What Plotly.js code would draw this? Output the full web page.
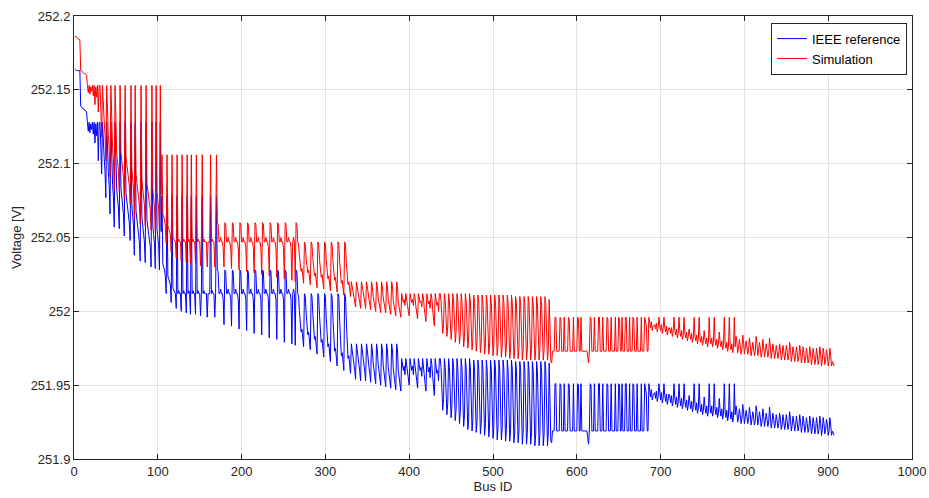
<!DOCTYPE html>
<html>
<head>
<meta charset="utf-8">
<script src="https://cdn.plot.ly/plotly-3.0.1.min.js"></script>
<style>html,body{margin:0;padding:0;background:#fff;}#chart{width:929px;height:498px;}</style>
</head>
<body>
<div id="chart"></div>
<script>
// Voltage per bus (bus IDs 1..906)
const ieeeVoltage = [
// bus 1-15
252.164,252.163,252.163,252.163,252.163,252.163,252.163,
252.139,252.138,252.138,252.137,252.137,252.136,252.136,252.135,
// bus 16-30
252.128,252.122,252.128,252.121,252.127,252.123,252.128,252.120,252.128,252.114,252.127,252.119,252.128,252.102,252.128,
// bus 31-104
252.128,252.112,252.093,252.128,252.110,252.104,252.095,252.077,252.128,252.100,
252.094,252.085,252.066,252.128,252.092,252.086,252.078,252.057,252.128,252.088,
252.082,252.076,252.070,252.056,252.128,252.083,252.077,252.071,252.066,252.051,
252.128,252.080,252.074,252.069,252.064,252.060,252.048,252.128,252.072,252.066,
252.058,252.038,252.128,252.068,252.062,252.057,252.052,252.047,252.034,252.128,
252.064,252.058,252.053,252.047,252.033,252.128,252.062,252.056,252.052,252.048,
252.044,252.030,252.128,252.058,252.052,252.046,252.029,252.128,252.056,252.050,
252.045,252.028,252.128,252.054,
// bus 105-169
252.078,252.032,252.030,252.028,252.024,252.012,
252.078,252.024,252.022,252.020,252.018,252.006,
252.078,252.016,252.014,252.013,252.012,252.002,
252.078,252.012,252.014,252.012,252.012,252.000,
252.078,252.012,252.014,252.012,252.012,251.999,
252.078,252.012,252.014,252.012,251.998,
252.078,252.012,252.014,252.012,252.012,251.998,
252.078,252.012,252.014,252.012,252.012,251.997,
252.012,252.078,252.012,252.014,252.012,252.012,252.012,251.996,252.012,
252.012,252.012,252.078,252.012,252.014,252.012,252.012,251.996,252.012,252.078,
// bus 170-265
252.028,252.027,252.012,252.012,252.015,252.012,252.012,252.008,251.991,
252.028,252.027,252.012,252.012,252.015,252.012,252.012,252.008,251.990,
252.028,252.027,252.012,252.012,252.015,252.012,252.012,252.008,251.988,
252.028,252.027,252.012,252.012,252.015,252.012,252.012,252.008,251.987,
252.028,252.027,252.012,252.012,252.015,252.012,252.012,252.008,251.985,
252.028,252.027,252.012,252.012,252.015,252.012,252.012,252.008,251.984,
252.028,252.027,252.012,252.012,252.015,252.012,252.012,252.008,251.982,
252.028,252.027,252.012,252.012,252.015,252.012,252.012,252.008,251.981,
252.028,252.027,252.012,252.012,252.015,252.012,252.012,252.008,251.979,
252.028,252.027,252.012,252.012,252.015,252.012,252.012,252.008,251.978,
252.012,252.015,252.012,251.977,252.028,252.027,
// bus 266-329
252.012,252.010,252.000,251.990,251.986,251.988,251.982,251.976,
252.012,252.010,251.999,251.988,251.984,251.986,251.980,251.974,
252.012,252.010,251.998,251.985,251.981,251.983,251.977,251.971,
252.012,252.010,251.997,251.983,251.979,251.981,251.975,251.969,
252.012,252.010,251.996,251.980,251.976,251.978,251.972,251.966,
252.012,252.010,251.995,251.977,251.973,251.975,251.969,251.963,
252.012,252.010,251.994,251.974,251.970,251.972,251.966,251.960,
252.012,252.010,251.993,251.972,251.968,251.970,251.964,251.958,
// bus 330-389
251.978,251.974,251.968,251.964,251.960,251.954,
251.978,251.974,251.967,251.963,251.959,251.953,
251.978,251.974,251.967,251.963,251.959,251.953,
251.978,251.974,251.966,251.962,251.958,251.952,
251.978,251.974,251.965,251.961,251.957,251.951,
251.978,251.974,251.964,251.960,251.956,251.950,
251.978,251.974,251.963,251.959,251.955,251.949,
251.978,251.974,251.962,251.958,251.954,251.948,
251.978,251.974,251.961,251.957,251.953,251.947,
251.978,251.974,251.960,251.956,251.952,251.946,
// bus 390-435
251.968,251.964,251.960,251.963,251.957,
251.968,251.964,251.959,251.955,251.950,
251.968,251.964,251.960,251.963,251.957,
251.968,251.964,251.958,251.953,251.948,
251.968,251.964,251.960,251.962,251.956,
251.968,251.964,251.957,251.951,251.946,
251.968,251.964,251.959,251.962,251.955,
251.968,251.964,251.956,251.949,251.943,
251.968,251.964,251.958,251.960,251.953,
251.968,
// bus 436-565
251.968,251.962,251.950,251.933,251.941,
251.968,251.962,251.949,251.930,251.938,
251.968,251.962,251.948,251.928,251.936,
251.968,251.962,251.947,251.926,251.934,
251.968,251.962,251.946,251.924,251.932,
251.968,251.962,251.945,251.922,251.930,
251.968,251.962,251.944,251.920,251.928,
251.968,251.962,251.943,251.919,251.927,
251.967,251.961,251.943,251.918,251.926,
251.967,251.961,251.942,251.917,251.925,
251.967,251.961,251.942,251.916,251.924,
251.967,251.961,251.941,251.915,251.923,
251.967,251.961,251.941,251.914,251.922,
251.967,251.961,251.940,251.913,251.921,
251.967,251.961,251.940,251.913,251.921,
251.967,251.961,251.940,251.912,251.920,
251.967,251.961,251.939,251.912,251.920,
251.967,251.961,251.939,251.911,251.919,
251.966,251.960,251.939,251.911,251.919,
251.966,251.960,251.938,251.910,251.918,
251.966,251.960,251.938,251.910,251.918,
251.966,251.960,251.938,251.910,251.918,
251.966,251.960,251.938,251.909,251.917,
251.966,251.960,251.937,251.909,251.917,
251.966,251.960,251.937,251.909,251.917,
251.966,251.960,251.937,251.909,251.917,
// bus 566-684
251.965,251.940,251.912,251.911,
251.919,251.919,251.919,251.951,251.951,251.919,251.919,251.919,251.919,
251.951,251.950,251.919,251.919,251.919,251.951,251.919,251.919,251.919,251.919,
251.951,251.950,251.919,251.919,251.919,251.919,251.951,251.919,251.919,251.919,251.919,
251.951,251.950,251.919,251.919,251.951,251.919,251.919,251.919,251.919,251.919,251.919,251.919,251.915,251.910,251.919,
251.951,251.950,251.919,251.919,251.919,251.951,251.919,251.919,251.919,251.919,251.951,251.951,251.919,
251.919,251.919,251.951,251.919,251.919,251.919,251.919,251.951,251.950,251.919,251.919,251.919,251.951,251.919,
251.919,251.919,251.919,251.951,251.919,251.919,251.919,251.951,251.950,251.919,251.919,251.951,251.919,251.919,
251.919,251.951,251.951,251.919,251.919,251.919,251.951,251.919,251.919,251.919,251.951,251.950,251.919,251.919,
251.919,251.951,251.919,251.919,251.919,251.919,251.951,251.919,251.919,251.919,251.951,251.946,251.944,251.919,251.919,
// bus 685-788
251.951,251.946,251.942,251.947,251.940,251.943,
251.944,251.945,251.941,251.946,251.939,251.942,
251.951,251.944,251.940,251.945,251.938,251.941,
251.951,251.943,251.939,251.944,251.937,251.940,
251.944,251.942,251.938,251.943,251.936,251.939,
251.951,251.941,251.937,251.942,251.935,251.938,
251.951,251.940,251.936,251.941,251.934,251.937,
251.951,251.939,251.935,251.940,251.933,251.936,
251.943,251.938,251.934,251.939,251.932,251.935,
251.951,251.937,251.933,251.938,251.931,251.934,
251.951,251.936,251.932,251.937,251.930,251.933,
251.942,251.935,251.931,251.936,251.929,251.932,
251.951,251.935,251.931,251.936,251.929,251.932,
251.951,251.934,251.930,251.935,251.928,251.931,
251.941,251.933,251.929,251.934,251.927,251.930,
251.951,251.932,251.928,251.933,251.926,251.929,
251.951,251.931,251.927,251.932,251.925,251.928,
251.951,251.930,
// bus 789-906
251.936,251.932,251.925,251.928, 251.934,251.930,251.924,251.927,
251.937,251.932,251.924,251.928, 251.933,251.929,251.924,251.927,
251.935,251.930,251.923,251.927, 251.932,251.928,251.923,251.926,
251.936,251.931,251.923,251.927, 251.932,251.928,251.922,251.925,
251.934,251.929,251.922,251.926, 251.931,251.927,251.922,251.925,
251.935,251.929,251.921,251.925, 251.931,251.927,251.921,251.924,
251.930,251.926,251.921,251.924, 251.931,251.927,251.920,251.923,
251.930,251.926,251.920,251.923, 251.930,251.926,251.920,251.923,
251.932,251.927,251.919,251.923, 251.929,251.925,251.919,251.922,
251.929,251.925,251.919,251.922, 251.930,251.925,251.918,251.922,
251.929,251.925,251.918,251.921, 251.928,251.924,251.918,251.921,
251.929,251.924,251.917,251.921, 251.928,251.924,251.917,251.920,
251.928,251.924,251.917,251.920, 251.929,251.924,251.916,251.920,
251.928,251.924,251.917,251.920, 251.927,251.923,251.916,251.919,
251.928,251.923,251.916,251.919,
251.917,251.916
];

const simVoltage = [
// bus 1-15
252.186,252.186,252.186,252.185,252.184,252.184,252.184,
252.163,252.163,252.162,252.162,252.161,252.161,252.160,252.160,
// bus 16-30
252.153,252.148,252.153,252.147,252.152,252.149,252.153,252.146,252.153,252.140,252.152,252.145,252.153,252.135,252.153,
// bus 31-104
252.153,252.137,252.118,252.153,252.135,252.129,252.120,252.102,252.153,252.125,
252.119,252.110,252.091,252.153,252.117,252.111,252.103,252.082,252.153,252.113,
252.107,252.101,252.095,252.081,252.153,252.108,252.102,252.096,252.091,252.076,
252.153,252.105,252.099,252.094,252.089,252.085,252.073,252.153,252.097,252.091,
252.083,252.063,252.153,252.093,252.087,252.082,252.077,252.072,252.059,252.153,
252.089,252.083,252.078,252.072,252.058,252.153,252.087,252.081,252.077,252.073,
252.069,252.055,252.153,252.083,252.077,252.071,252.054,252.153,252.081,252.075,
252.070,252.053,252.153,252.079,
// bus 105-169
252.106,252.066,252.064,252.062,252.058,252.046,
252.106,252.058,252.056,252.054,252.052,252.040,
252.106,252.050,252.049,252.048,252.047,252.036,
252.106,252.047,252.049,252.047,252.047,252.034,
252.106,252.047,252.049,252.047,252.047,252.033,
252.106,252.047,252.049,252.047,252.032,
252.106,252.047,252.049,252.047,252.047,252.032,
252.106,252.047,252.049,252.047,252.047,252.031,
252.047,252.106,252.047,252.049,252.047,252.047,252.047,252.030,252.047,
252.047,252.047,252.106,252.047,252.049,252.047,252.047,252.030,252.047,252.106,
// bus 170-265
252.060,252.059,252.047,252.047,252.050,252.047,252.047,252.043,252.030,
252.060,252.059,252.047,252.047,252.050,252.047,252.047,252.043,252.029,
252.060,252.059,252.047,252.047,252.050,252.047,252.047,252.043,252.028,
252.060,252.059,252.047,252.047,252.050,252.047,252.047,252.043,252.027,
252.060,252.059,252.047,252.047,252.050,252.047,252.047,252.043,252.026,
252.060,252.059,252.047,252.047,252.050,252.047,252.047,252.043,252.025,
252.060,252.059,252.047,252.047,252.050,252.047,252.047,252.043,252.024,
252.060,252.059,252.047,252.047,252.050,252.047,252.047,252.043,252.023,
252.060,252.059,252.047,252.047,252.050,252.047,252.047,252.043,252.022,
252.060,252.059,252.047,252.047,252.050,252.047,252.047,252.043,252.021,
252.047,252.050,252.047,252.020,252.060,252.059,
// bus 266-329
252.047,252.045,252.037,252.030,252.027,252.029,252.024,252.019,
252.047,252.045,252.036,252.029,252.026,252.028,252.023,252.018,
252.047,252.045,252.036,252.027,252.024,252.026,252.021,252.016,
252.047,252.045,252.035,252.026,252.023,252.025,252.020,252.015,
252.047,252.045,252.035,252.025,252.022,252.024,252.019,252.014,
252.047,252.045,252.034,252.024,252.021,252.023,252.018,252.013,
252.047,252.045,252.034,252.022,252.019,252.021,252.016,252.011,
252.047,252.045,252.033,252.021,252.018,252.020,252.015,252.010,
// bus 330-389
252.020,252.017,252.013,252.010,252.007,252.003,
252.020,252.017,252.012,252.009,252.006,252.002,
252.020,252.017,252.012,252.009,252.006,252.002,
252.020,252.017,252.011,252.008,252.005,252.001,
252.020,252.017,252.010,252.007,252.004,252.000,
252.020,252.017,252.009,252.006,252.003,251.999,
252.020,252.017,252.009,252.006,252.003,251.999,
252.020,252.017,252.008,252.005,252.002,251.998,
252.020,252.017,252.007,252.004,252.001,251.997,
252.020,252.017,252.006,252.003,252.000,251.996,
// bus 390-435
252.012,252.009,252.006,252.008,252.004,
252.012,252.009,252.004,252.000,251.997,
252.012,252.009,252.006,252.008,252.004,
252.012,252.009,252.003,251.999,251.995,
252.012,252.009,252.006,252.007,252.003,
252.012,252.009,252.002,251.997,251.993,
252.012,252.009,252.005,252.007,252.002,
252.012,252.009,252.001,251.995,251.990,
252.012,252.009,252.004,252.006,252.000,
252.012,
// bus 436-565
252.012,252.007,251.998,251.985,251.992,
252.012,252.007,251.997,251.983,251.990,
252.012,252.007,251.996,251.981,251.988,
252.012,252.007,251.995,251.979,251.986,
252.012,252.007,251.995,251.978,251.985,
252.012,252.007,251.994,251.976,251.983,
252.012,252.007,251.993,251.975,251.982,
252.012,252.007,251.993,251.974,251.981,
252.011,252.006,251.992,251.973,251.980,
252.011,252.006,251.991,251.972,251.979,
252.011,252.006,251.991,251.971,251.978,
252.011,252.006,251.991,251.971,251.978,
252.011,252.006,251.990,251.970,251.977,
252.011,252.006,251.990,251.970,251.977,
252.011,252.006,251.990,251.969,251.976,
252.011,252.006,251.990,251.969,251.976,
252.011,252.006,251.989,251.968,251.975,
252.011,252.006,251.989,251.968,251.975,
252.010,252.005,251.989,251.968,251.975,
252.010,252.005,251.988,251.967,251.974,
252.010,252.005,251.988,251.967,251.974,
252.010,252.005,251.988,251.967,251.974,
252.010,252.005,251.988,251.967,251.974,
252.010,252.005,251.988,251.967,251.974,
252.010,252.005,251.988,251.967,251.974,
252.010,252.005,251.988,251.967,251.974,
// bus 566-684
252.008,251.990,251.966,251.965,
251.973,251.973,251.973,251.996,251.996,251.973,251.973,251.973,251.973,
251.996,251.995,251.973,251.973,251.973,251.996,251.973,251.973,251.973,251.973,
251.996,251.995,251.973,251.973,251.973,251.973,251.996,251.973,251.973,251.973,251.973,
251.996,251.995,251.973,251.973,251.996,251.973,251.973,251.973,251.973,251.973,251.973,251.973,251.970,251.965,251.973,
251.996,251.995,251.973,251.973,251.973,251.996,251.973,251.973,251.973,251.973,251.996,251.996,251.973,
251.973,251.973,251.996,251.973,251.973,251.973,251.973,251.996,251.995,251.973,251.973,251.973,251.996,251.973,
251.973,251.973,251.973,251.996,251.973,251.973,251.973,251.996,251.995,251.973,251.973,251.996,251.973,251.973,
251.973,251.996,251.996,251.973,251.973,251.973,251.996,251.973,251.973,251.973,251.996,251.995,251.973,251.973,
251.973,251.996,251.973,251.973,251.973,251.973,251.996,251.973,251.973,251.973,251.996,251.992,251.990,251.973,251.973,
// bus 685-788
251.996,251.992,251.989,251.993,251.987,251.990,
251.990,251.991,251.988,251.992,251.986,251.989,
251.996,251.990,251.987,251.991,251.985,251.988,
251.996,251.989,251.986,251.990,251.984,251.987,
251.989,251.988,251.985,251.989,251.983,251.986,
251.996,251.987,251.984,251.988,251.982,251.985,
251.996,251.986,251.983,251.987,251.981,251.984,
251.996,251.985,251.982,251.986,251.980,251.983,
251.988,251.984,251.981,251.985,251.979,251.982,
251.996,251.983,251.980,251.984,251.978,251.981,
251.996,251.982,251.979,251.983,251.977,251.980,
251.987,251.981,251.978,251.982,251.976,251.979,
251.996,251.981,251.978,251.982,251.976,251.979,
251.996,251.980,251.977,251.981,251.975,251.978,
251.986,251.979,251.976,251.980,251.974,251.977,
251.996,251.978,251.975,251.979,251.973,251.976,
251.996,251.977,251.974,251.978,251.972,251.975,
251.996,251.976,
// bus 789-906
251.983,251.979,251.972,251.975, 251.981,251.977,251.971,251.974,
251.984,251.979,251.971,251.975, 251.980,251.976,251.971,251.974,
251.982,251.977,251.970,251.974, 251.979,251.975,251.970,251.973,
251.983,251.978,251.970,251.974, 251.979,251.975,251.969,251.972,
251.981,251.976,251.969,251.973, 251.978,251.974,251.969,251.972,
251.982,251.976,251.968,251.972, 251.978,251.974,251.968,251.971,
251.977,251.973,251.968,251.971, 251.978,251.974,251.967,251.970,
251.977,251.973,251.967,251.970, 251.977,251.973,251.967,251.970,
251.979,251.974,251.966,251.970, 251.976,251.972,251.966,251.969,
251.976,251.972,251.966,251.969, 251.977,251.972,251.965,251.969,
251.976,251.972,251.965,251.968, 251.975,251.971,251.965,251.968,
251.976,251.971,251.964,251.968, 251.975,251.971,251.964,251.967,
251.975,251.971,251.964,251.967, 251.976,251.971,251.963,251.967,
251.975,251.971,251.964,251.967, 251.974,251.970,251.963,251.966,
251.975,251.970,251.963,251.966,
251.964,251.963
];

const seriesNames = ['IEEE reference', 'Simulation'];
const seriesColors = ['#0000ff', '#ff0000'];
const xTickVals = [0, 100, 200, 300, 400, 500, 600, 700, 800, 900, 1000];
const yTickVals = [251.9, 251.95, 252, 252.05, 252.1, 252.15, 252.2];
const yTickText = ['251.9', '251.95', '252', '252.05', '252.1', '252.15', '252.2'];

const busIdIeee = ieeeVoltage.map((_, i) => i + 1);
const busIdSim = simVoltage.map((_, i) => i + 1);

const traces = [
  {x: busIdIeee, y: ieeeVoltage, type: 'scatter', mode: 'lines', name: seriesNames[0],
   line: {color: seriesColors[0], width: 1}},
  {x: busIdSim, y: simVoltage, type: 'scatter', mode: 'lines', name: seriesNames[1],
   line: {color: seriesColors[1], width: 1}}
];

const axisCommon = {
  showgrid: true, gridcolor: '#e2e2e2', gridwidth: 1,
  zeroline: false, showline: true, linecolor: '#262626', linewidth: 1,
  mirror: 'ticks', ticks: 'inside', ticklen: 5, tickcolor: '#262626', tickwidth: 1,
  tickfont: {family: 'Liberation Sans, Arial, sans-serif', size: 13, color: '#262626'}
};

const layout = {
  width: 929, height: 498,
  margin: {l: 74, r: 17, t: 16, b: 39, pad: 0},
  paper_bgcolor: '#ffffff', plot_bgcolor: '#ffffff',
  font: {family: 'Liberation Sans, Arial, sans-serif', size: 13, color: '#262626'},
  showlegend: true,
  xaxis: Object.assign({}, axisCommon, {
    range: [0, 1000], tickmode: 'array', tickvals: xTickVals,
    title: {text: 'Bus ID', font: {size: 13, color: '#262626'}, standoff: 4}
  }),
  yaxis: Object.assign({}, axisCommon, {
    range: [251.9, 252.2], tickmode: 'array', tickvals: yTickVals, ticktext: yTickText,
    title: {text: 'Voltage [V]', font: {size: 13, color: '#262626'}, standoff: 6}
  }),
  legend: {
    x: 0.994, y: 0.985, xanchor: 'right', yanchor: 'top',
    bgcolor: '#ffffff', bordercolor: '#262626', borderwidth: 1,
    font: {family: 'Liberation Sans, Arial, sans-serif', size: 13, color: '#000000'},
    tracegroupgap: 0
  }
};

Plotly.newPlot('chart', traces, layout, {displayModeBar: false, staticPlot: true});
</script>
</body>
</html>
